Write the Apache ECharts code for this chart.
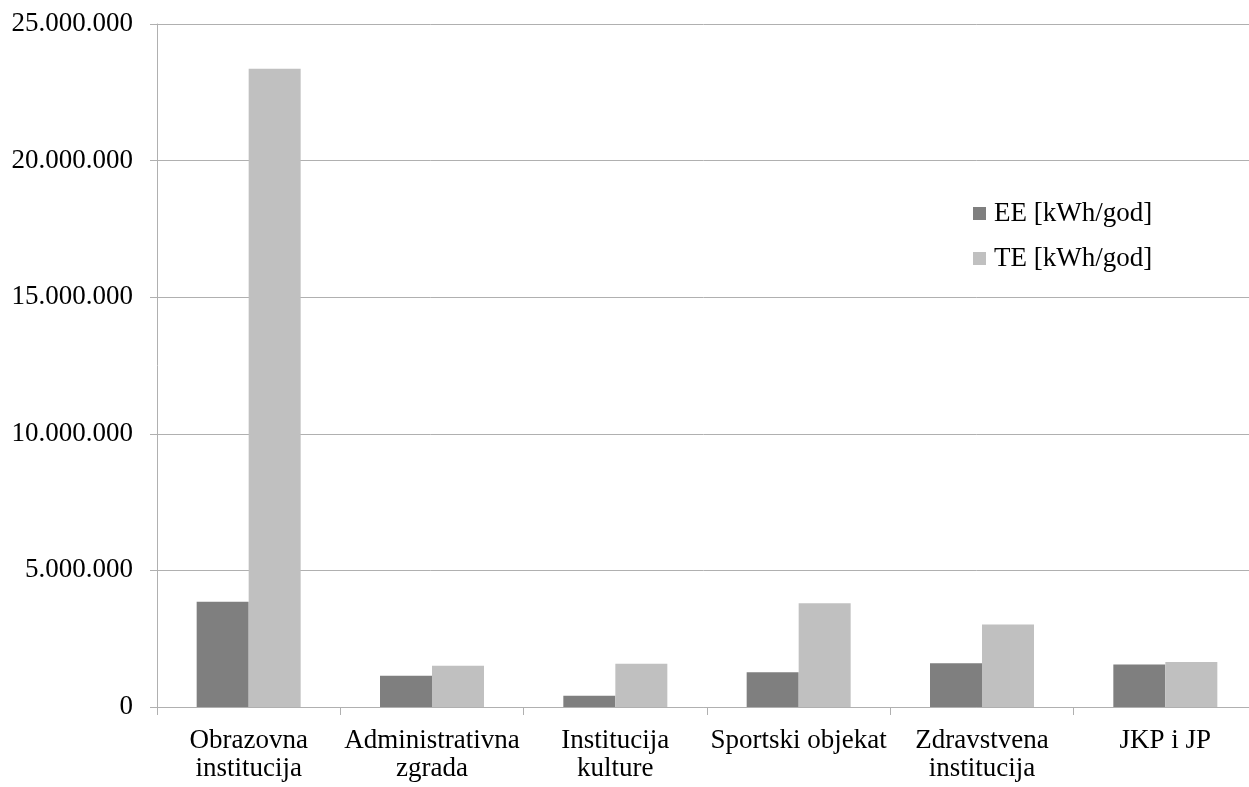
<!DOCTYPE html>
<html>
<head>
<meta charset="utf-8">
<script src="https://cdn.jsdelivr.net/npm/echarts@6/dist/echarts.min.js"></script>
<style>
  html, body { margin: 0; padding: 0; background: #fff; }
  #chart { width: 1249px; height: 787px; }
</style>
</head>
<body>
<div id="chart"></div>
<script>
// Godišnja potrošnja energije po tipu objekta
const categories = ['Obrazovna\ninstitucija', 'Administrativna\nzgrada', 'Institucija\nkulture', 'Sportski objekat', 'Zdravstvena\ninstitucija', 'JKP i JP'];
const seriesNames = ['EE [kWh/god]', 'TE [kWh/god]'];
const eeValues = [3850000, 1140000, 410000, 1270000, 1600000, 1560000];
const teValues = [23360000, 1510000, 1580000, 3800000, 3020000, 1650000];
const yMin = 0;
const yMax = 25000000;
const yStep = 5000000;

const FONT = "'Liberation Serif', 'Times New Roman', serif";
const LINE = '#b0b0b0';

// thousands separated with dots: 25.000.000
function fmt(v) {
  return String(Math.round(v)).replace(/\B(?=(\d{3})+(?!\d))/g, '.');
}

const chart = echarts.init(document.getElementById('chart'), null, { renderer: 'canvas' });
chart.setOption({
  backgroundColor: '#ffffff',
  animation: false,
  color: ['#7f7f7f', '#c0c0c0'],
  // the last category runs past the right edge of the canvas
  grid: { left: 157, top: 24, width: 1100, bottom: 80, containLabel: false, outerBoundsMode: 'none' },
  legend: {
    orient: 'vertical',
    left: 973,
    top: 200,
    padding: 0,
    itemWidth: 13,
    itemHeight: 13,
    itemGap: 18,
    icon: 'rect',
    data: seriesNames,
    textStyle: { fontFamily: FONT, fontSize: 27, color: '#000', lineHeight: 26, padding: [0, 0, 0, 3] }
  },
  xAxis: {
    type: 'category',
    data: categories,
    axisLine: { show: true, lineStyle: { color: LINE, width: 1 } },
    axisTick: { show: true, length: 8, lineStyle: { color: LINE } },
    axisLabel: { fontFamily: FONT, fontSize: 27, color: '#000', lineHeight: 28, margin: 20, interval: 0 },
    splitLine: { show: false }
  },
  yAxis: {
    type: 'value',
    min: yMin,
    max: yMax,
    interval: yStep,
    axisLine: { show: true, lineStyle: { color: LINE, width: 1 } },
    axisTick: { show: true, length: 7, lineStyle: { color: LINE } },
    axisLabel: { fontFamily: FONT, fontSize: 27, color: '#000', margin: 24, formatter: fmt },
    splitLine: { show: true, lineStyle: { color: LINE, width: 1 } }
  },
  series: [
    { name: seriesNames[0], type: 'bar', data: eeValues, barWidth: 52, barGap: '0%' },
    { name: seriesNames[1], type: 'bar', data: teValues, barWidth: 52, barGap: '0%' }
  ]
});
</script>
</body>
</html>
